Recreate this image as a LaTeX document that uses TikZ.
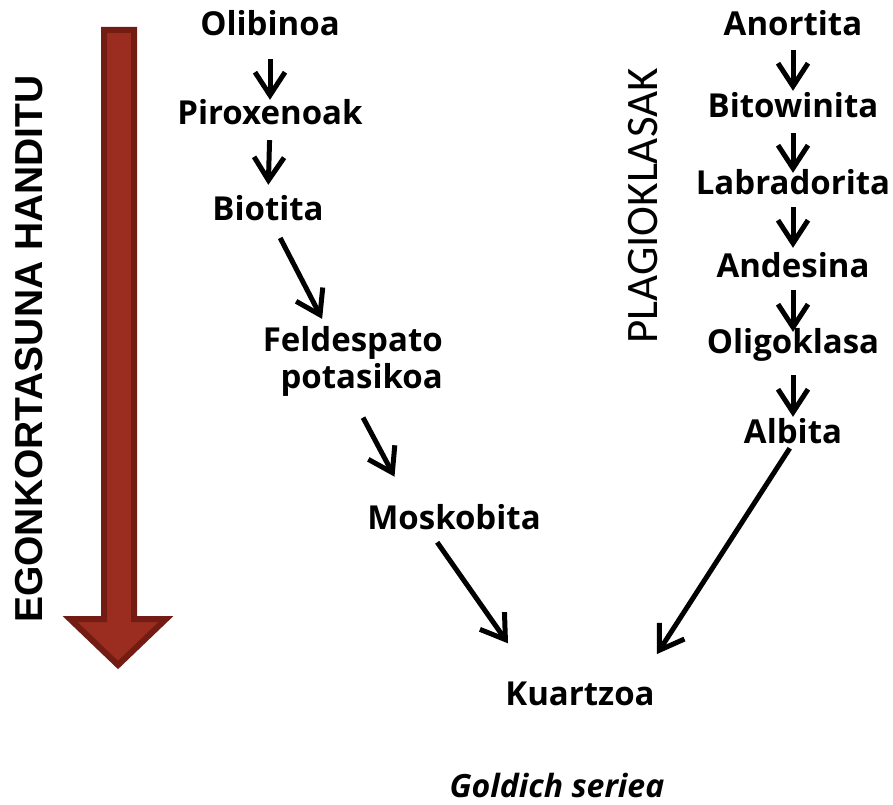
\documentclass[tikz,border=0pt]{standalone}
\usepackage{fontspec}
\usepackage{tikz}
\usepackage{xcolor}
\usetikzlibrary{arrows.meta}
\newfontfamily\mineralFont{Open Sans}
\newfontfamily\arialFont{Liberation Sans}
\newfontfamily\calibriFont{Carlito}
\definecolor{bigArrowFillColor}{HTML}{9B2D20}
\definecolor{bigArrowDrawColor}{HTML}{731C14}
\definecolor{linkColor}{HTML}{000000}
\definecolor{labelTextColor}{HTML}{000000}
\def\textStability{EGONKORTASUNA HANDITU}
\def\textPlagio{PLAGIOKLASAK}
\def\textSeries{Goldich seriea}
\tikzset{
  mineral/.style={font=\mineralFont\bfseries\fontsize{33bp}{37bp}\selectfont,
    text=labelTextColor, inner sep=0pt, text height=23bp, text depth=0pt, anchor=base},
  linkArrow/.style={draw=linkColor, line width=5bp,
    -{Straight Barb[length=23bp,width=30bp]}}
}

\begin{document}
\begin{tikzpicture}[x=1bp,y=-1bp]
\useasboundingbox (0, 0) rectangle (893, 805);

% big arrow
\begin{scope}
\draw[fill=bigArrowFillColor, draw=bigArrowDrawColor, line width=6bp, miter limit=4]
(104, 30) -- (134, 30) -- (134, 619) -- (166, 619) -- (118, 665)
-- (70, 619) -- (104, 619) -- cycle;
\end{scope}

% vertical labels
\begin{scope}
\node[rotate=90, font=\arialFont\bfseries\fontsize{39bp}{46bp}\selectfont, inner sep=0pt]
(stability) at (29, 349) {\textStability};
\node[rotate=90, font=\calibriFont\fontsize{45bp}{54bp}\selectfont, inner sep=0pt]
(plagio) at (643, 206) {\textPlagio};
\end{scope}

% label layer
\begin{scope}
% left series
\node[mineral] (olibinoa) at (270, 36) {Olibinoa};
\node[mineral] (piroxenoak) at (270, 124) {Piroxenoak};
\node[mineral] (biotita) at (268, 220) {Biotita};
\node[mineral, text height=, text depth=, align=right, anchor=north east]
(feldespato) at (443, 326) {Feldespato\\potasikoa};
\node[mineral] (moskobita) at (454, 529) {Moskobita};
% right series
\node[mineral] (anortita) at (793, 36) {Anortita};
\node[mineral] (bitowinita) at (793, 117) {Bitowinita};
\node[mineral] (labradorita) at (793, 194) {Labradorita};
\node[mineral] (andesina) at (793, 277) {Andesina};
\node[mineral] (oligoklasa) at (793, 353) {Oligoklasa};
\node[mineral] (albita) at (793, 443) {Albita};
% end
\node[mineral] (kuartzoa) at (580, 705) {Kuartzoa};
\node[mineral, font=\mineralFont\bfseries\itshape\fontsize{32bp}{37bp}\selectfont]
(series) at (557, 797) {\textSeries};
\end{scope}

% link layer
\begin{scope}
\draw[linkArrow, shorten <=23bp, shorten >=1bp] (olibinoa.south) -- (piroxenoak.north);
\draw[linkArrow, shorten <=16bp, shorten >=12bp] (piroxenoak.south) -- (biotita.north);
\draw[linkArrow, shorten <=20bp, shorten >=8bp]
([xshift=3bp]biotita.south) -- ([xshift=-27bp]feldespato.north);
\draw[linkArrow, shorten <=24bp, shorten >=33bp]
([xshift=-1bp]feldespato.south) -- ([xshift=-44bp]moskobita.north);
\draw[linkArrow, shorten <=16bp, shorten >=47bp]
([xshift=-26bp]moskobita.south) -- ([xshift=-45bp]kuartzoa.north);

\draw[linkArrow, shorten <=14bp, shorten >=3bp] (anortita.south) -- (bitowinita.north);
\draw[linkArrow, shorten <=16bp, shorten >=-2bp] (bitowinita.south) -- (labradorita.north);
\draw[linkArrow, shorten <=13bp, shorten >=6bp] (labradorita.south) -- (andesina.north);
\draw[linkArrow, shorten <=13bp, shorten >=-2bp] (andesina.south) -- (oligoklasa.north);
\draw[linkArrow, shorten <=22bp, shorten >=3bp] (oligoklasa.south) -- (albita.north);
\draw[linkArrow, shorten <=6bp, shorten >=33bp]
(albita.south) -- ([xshift=59bp]kuartzoa.north);
\end{scope}

\end{tikzpicture}
\end{document}
